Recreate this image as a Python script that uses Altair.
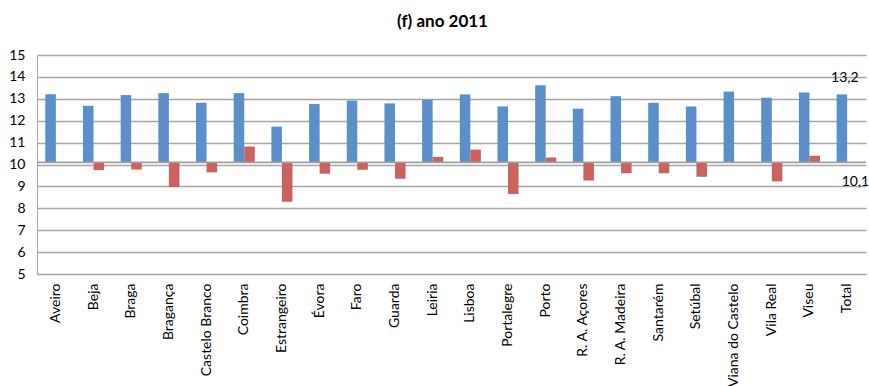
import altair as alt
import pandas as pd

categories = ["Aveiro", "Beja", "Braga", "Bragança", "Castelo Branco", "Coimbra",
              "Estrangeiro", "Évora", "Faro", "Guarda", "Leiria", "Lisboa",
              "Portalegre", "Porto", "R. A. Açores", "R. A. Madeira", "Santarém",
              "Setúbal", "Viana do Castelo", "Vila Real", "Viseu", "Total"]
series_a = [13.21, 12.68, 13.17, 13.26, 12.82, 13.26, 11.73, 12.76, 12.92, 12.79, 12.95,
            13.20, 12.65, 13.62, 12.55, 13.12, 12.82, 12.65, 13.33, 13.05, 13.29, 13.2]
series_b = [10.1, 9.74, 9.77, 8.97, 9.64, 10.82, 8.30, 9.58, 9.76, 9.35, 10.35,
            10.68, 8.65, 10.32, 9.27, 9.60, 9.60, 9.44, 10.1, 9.23, 10.40, 10.1]
base_value = 10.1
label_values = ["13,2", "10,1"]
y_ticks = [5, 6, 7, 8, 9, 10, 11, 12, 13, 14, 15]

series_names = ["a", "b"]
colors = ["#5B8FCA", "#CB625E"]
FONT = "Lato"

rows = []
for c, a, b in zip(categories, series_a, series_b):
    rows.append({"cat": c, "series": "a", "value": a})
    rows.append({"cat": c, "series": "b", "value": b})
df = pd.DataFrame(rows)

labels_df = pd.DataFrame({
    "cat": ["Total", "Total"],
    "series": series_names,
    "value": [series_a[-1], series_b[-1]],
    "label": label_values,
})

y_scale = alt.Scale(domain=[5, 15], nice=False, zero=False)
x_scale = alt.Scale(paddingInner=0.44, paddingOuter=0.22)

x_axis = alt.Axis(labelAngle=-90, labelAlign="right", labelBaseline="middle",
                  labelPadding=9, ticks=False, domainColor="#A6A6A6",
                  labelFont=FONT, labelFontSize=14, labelColor="#000000",
                  labelOverlap=False, grid=False)
y_axis = alt.Axis(values=y_ticks, ticks=False, labelPadding=12,
                  labelOverlap=False, grid=True,
                  gridColor="#A6A6A6", gridWidth=1.3, domainColor="#A6A6A6",
                  labelFont=FONT, labelFontSize=14, labelColor="#000000")

x_enc = alt.X("cat:N", sort=categories, title=None, scale=x_scale, axis=x_axis)
y_enc = alt.Y("value:Q", title=None, scale=y_scale, axis=y_axis)
xoff = alt.XOffset("series:N", sort=series_names, scale=alt.Scale(paddingInner=0))

bars = alt.Chart(df).mark_bar().encode(
    x=x_enc,
    xOffset=xoff,
    y=y_enc,
    y2=alt.datum(base_value),
    color=alt.Color("series:N", scale=alt.Scale(domain=series_names, range=colors), legend=None),
)

rule = alt.Chart(pd.DataFrame({"value": [base_value]})).mark_rule(
    color="#A0A0A0", strokeWidth=1.8
).encode(y=y_enc)

text_a = alt.Chart(labels_df[labels_df.series == "a"]).mark_text(
    font=FONT, fontSize=14, color="#000000", dy=-16, dx=3, baseline="middle"
).encode(x=x_enc, xOffset=xoff, y=y_enc, text="label:N")

text_b = alt.Chart(labels_df[labels_df.series == "b"]).mark_text(
    font=FONT, fontSize=14, color="#000000", dy=20, dx=3, baseline="middle"
).encode(x=x_enc, xOffset=xoff, y=y_enc, text="label:N")

chart = alt.layer(bars, rule, text_a, text_b).properties(
    width=829, height=219,
    title=alt.TitleParams("(f) ano 2011", font=FONT, fontSize=17, fontWeight="bold",
                          color="#000000", anchor="middle", dx=-9, offset=17),
    autosize=alt.AutoSizeParams(type="none"),
    padding={"left": 37, "top": 55, "right": 3, "bottom": 112},
).configure_view(stroke=None)

chart.save("out.html", embed_options={"renderer": "svg", "actions": False})
